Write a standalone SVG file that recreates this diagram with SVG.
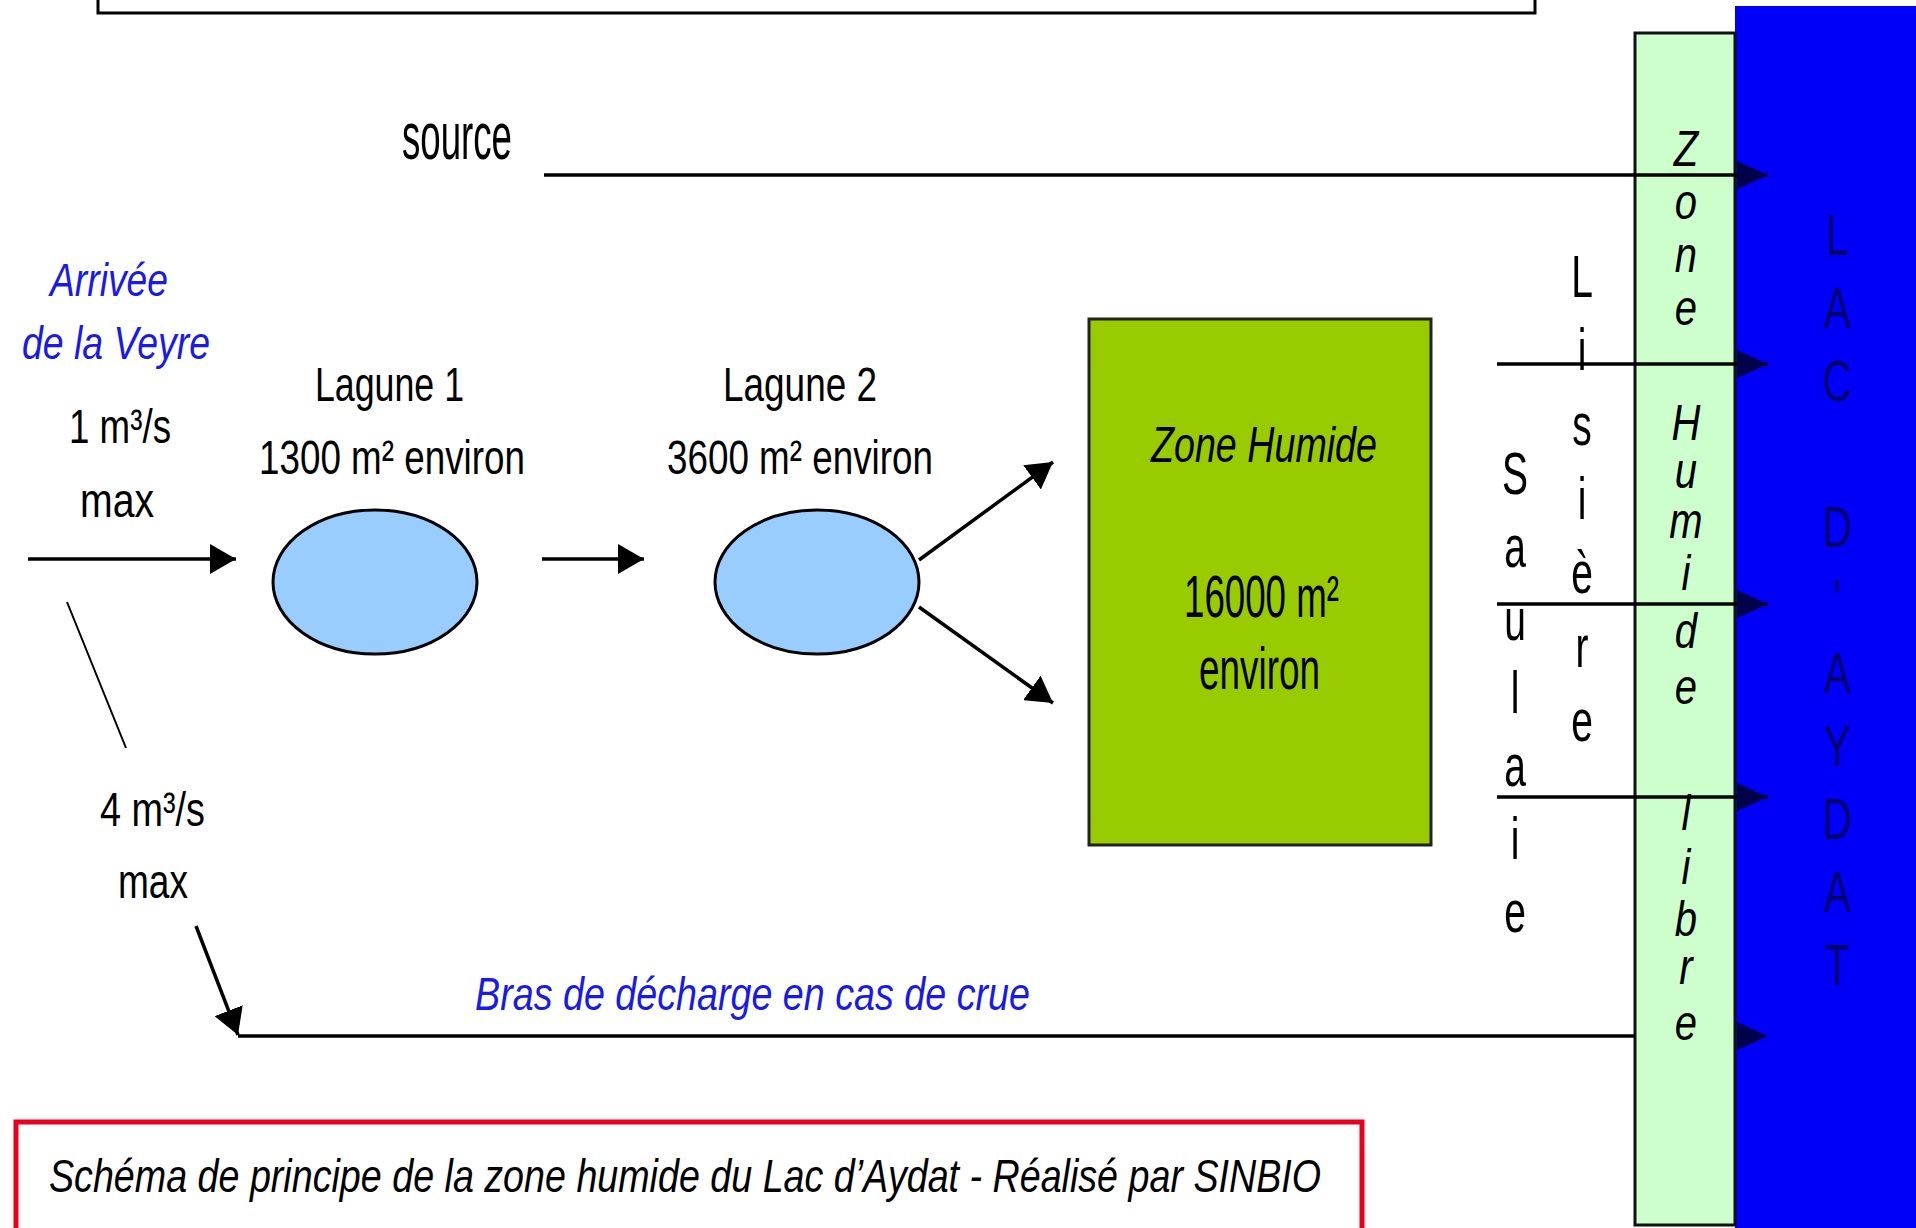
<svg xmlns="http://www.w3.org/2000/svg" width="1916" height="1228" viewBox="0 0 1916 1228">
<defs>
<style>
.t{font-family:"Liberation Sans",Arial,Helvetica,sans-serif;fill:#000}
.it{font-style:italic}
.blue{fill:#1a1ae6}
.navy{fill:#00006a}
.ln{fill:none;stroke:#000;stroke-width:3.5}
.thin{fill:none;stroke:#000;stroke-width:2}
</style>
<marker id="ah" markerUnits="userSpaceOnUse" markerWidth="28" markerHeight="30" refX="26" refY="15" orient="auto">
<path d="M0,0 L26,15 L0,30 Z" fill="#000"/>
</marker>
<marker id="ahl" markerUnits="userSpaceOnUse" markerWidth="32" markerHeight="28" refX="31" refY="14" orient="auto">
<path d="M0,0 L31,14 L0,28 Z" fill="#00004a"/>
</marker>
</defs>
<rect width="1916" height="1228" fill="#fff"/>

<g id="title-box">
<rect x="98" y="-10" width="1437" height="23" fill="#fff" stroke="#000" stroke-width="3"/>
</g>

<g id="lac">
<rect x="1735" y="6" width="181" height="1222" fill="#0000fa"/>
<g transform="translate(1837 0) scale(0.7 1)" font-size="58" text-anchor="middle">
<text class="t navy" x="0" y="255">L</text>
<text class="t navy" x="0" y="328">A</text>
<text class="t navy" x="0" y="401">C</text>
<text class="t navy" x="0" y="547">D</text>
<text class="t navy" x="0" y="620">'</text>
<text class="t navy" x="0" y="693">A</text>
<text class="t navy" x="0" y="766">Y</text>
<text class="t navy" x="0" y="839">D</text>
<text class="t navy" x="0" y="912">A</text>
<text class="t navy" x="0" y="985">T</text>
</g>
</g>

<g id="zone-humide-libre">
<rect x="1635" y="33" width="100" height="1192" fill="#ccffcc" stroke="#111" stroke-width="3"/>
<g transform="translate(1686 0) scale(0.8 1)" font-size="50" text-anchor="middle">
<text class="t it" x="0" y="166">Z</text>
<text class="t it" x="0" y="219">o</text>
<text class="t it" x="0" y="272">n</text>
<text class="t it" x="0" y="325">e</text>
<text class="t it" x="0" y="440">H</text>
<text class="t it" x="0" y="488">u</text>
<text class="t it" x="0" y="538">m</text>
<text class="t it" x="0" y="590">i</text>
<text class="t it" x="0" y="648">d</text>
<text class="t it" x="0" y="704">e</text>
<text class="t it" x="0" y="830">l</text>
<text class="t it" x="0" y="884">i</text>
<text class="t it" x="0" y="936">b</text>
<text class="t it" x="0" y="984">r</text>
<text class="t it" x="0" y="1040">e</text>
</g>
</g>

<g id="saulaie">
<g transform="translate(1515 0) scale(0.65 1)" font-size="60" text-anchor="middle">
<text class="t" x="0" y="494">S</text>
<text class="t" x="0" y="567">a</text>
<text class="t" x="0" y="640">u</text>
<text class="t" x="0" y="713">l</text>
<text class="t" x="0" y="786">a</text>
<text class="t" x="0" y="859">i</text>
<text class="t" x="0" y="932">e</text>
</g>
</g>

<g id="lisiere">
<g transform="translate(1582 0) scale(0.65 1)" font-size="60" text-anchor="middle">
<text class="t" x="0" y="297">L</text>
<text class="t" x="0" y="370">i</text>
<text class="t" x="0" y="445">s</text>
<text class="t" x="0" y="519">i</text>
<text class="t" x="0" y="593">è</text>
<text class="t" x="0" y="667">r</text>
<text class="t" x="0" y="741">e</text>
</g>
</g>

<g id="source">
<text class="t" x="402" y="159" font-size="66" textLength="110" lengthAdjust="spacingAndGlyphs">source</text>
</g>

<g id="arrivee">
<text class="t it blue" x="50" y="296" font-size="46" textLength="118" lengthAdjust="spacingAndGlyphs">Arrivée</text>
<text class="t it blue" x="22" y="359" font-size="46" textLength="188" lengthAdjust="spacingAndGlyphs">de la Veyre</text>
<text class="t" x="69" y="443" font-size="49" textLength="102" lengthAdjust="spacingAndGlyphs">1 m³/s</text>
<text class="t" x="80" y="517" font-size="49" textLength="74" lengthAdjust="spacingAndGlyphs">max</text>
</g>

<g id="lagune1">
<text class="t" x="315" y="401" font-size="49" textLength="149" lengthAdjust="spacingAndGlyphs">Lagune 1</text>
<text class="t" x="259" y="474" font-size="49" textLength="266" lengthAdjust="spacingAndGlyphs">1300 m² environ</text>
<ellipse cx="375" cy="582" rx="102" ry="72" fill="#99ccff" stroke="#000" stroke-width="3"/>
</g>

<g id="lagune2">
<text class="t" x="723" y="401" font-size="49" textLength="154" lengthAdjust="spacingAndGlyphs">Lagune 2</text>
<text class="t" x="667" y="474" font-size="49" textLength="266" lengthAdjust="spacingAndGlyphs">3600 m² environ</text>
<ellipse cx="817" cy="582" rx="102" ry="72" fill="#99ccff" stroke="#000" stroke-width="3"/>
</g>

<g id="zone-humide">
<rect x="1089" y="319" width="342" height="526" fill="#99cc00" stroke="#222" stroke-width="3"/>
<text class="t it" x="1151" y="462" font-size="50" textLength="226" lengthAdjust="spacingAndGlyphs">Zone Humide</text>
<text class="t" x="1184" y="617" font-size="59" textLength="155" lengthAdjust="spacingAndGlyphs">16000 m²</text>
<text class="t" x="1199" y="689" font-size="59" textLength="121" lengthAdjust="spacingAndGlyphs">environ</text>
</g>

<g id="crue">
<text class="t" x="100" y="826" font-size="49" textLength="105" lengthAdjust="spacingAndGlyphs">4 m³/s</text>
<text class="t" x="118" y="898" font-size="49" textLength="70" lengthAdjust="spacingAndGlyphs">max</text>
<text class="t it blue" x="475" y="1010" font-size="46" textLength="555" lengthAdjust="spacingAndGlyphs">Bras de décharge en cas de crue</text>
</g>

<g id="connectors">
<path class="ln" d="M544 175 H1768" marker-end="url(#ahl)"/>
<path class="ln" d="M1497 364 H1768" marker-end="url(#ahl)"/>
<path class="ln" d="M1497 604 H1768" marker-end="url(#ahl)"/>
<path class="ln" d="M1497 797 H1768" marker-end="url(#ahl)"/>
<path class="ln" d="M28 559 H236" marker-end="url(#ah)"/>
<path class="ln" d="M542 559 H644" marker-end="url(#ah)"/>
<path class="ln" d="M919 560 L1053 462" marker-end="url(#ah)"/>
<path class="ln" d="M919 607 L1053 703" marker-end="url(#ah)"/>
<path class="thin" d="M67 602 L126 748"/>
<path class="ln" d="M196 926 L238 1035" marker-end="url(#ah)"/>
<path class="ln" d="M238 1036 H1635"/>
<path d="M1737 1022 L1768 1036 L1737 1050 Z" fill="#00004a"/>
</g>

<g id="caption">
<rect x="16" y="1122" width="1346" height="130" fill="#fff" stroke="#e8001c" stroke-width="5"/>
<text class="t it" x="49" y="1192" font-size="46" textLength="1272" lengthAdjust="spacingAndGlyphs">Schéma de principe de la zone humide du Lac d’Aydat - Réalisé par SINBIO</text>
</g>
</svg>
